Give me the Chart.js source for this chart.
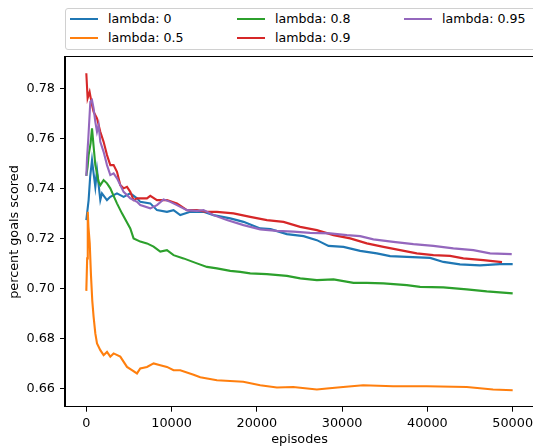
<!DOCTYPE html>
<html>
<head>
<meta charset="utf-8">
<script src="https://cdn.jsdelivr.net/npm/chart.js@4/dist/chart.umd.min.js"></script>
<style>
  html,body{margin:0;padding:0;background:#fff;overflow:hidden;width:533px;height:447px;}
  #wrap{position:absolute;left:0;top:0;width:545px;height:447px;}
  #legend{position:absolute;left:65px;top:8px;width:490px;height:40px;border:1px solid #d0d0d0;border-radius:3px;background:#fff;font-family:"DejaVu Sans",sans-serif;font-size:12.6px;color:#000;}
  .item{position:absolute;height:16px;white-space:nowrap;}
  .swatch{position:absolute;left:0;top:7px;width:28px;height:2px;}
  .lbl{position:absolute;left:38px;top:0px;line-height:16px;}
</style>
</head>
<body>
<div id="wrap"><canvas id="c"></canvas></div>
<div id="legend"></div>
<script>
// ---- data ----
const seriesLabels = ["lambda: 0", "lambda: 0.5", "lambda: 0.8", "lambda: 0.9", "lambda: 0.95"];
const seriesColors = ["#1f77b4", "#ff7f0e", "#2ca02c", "#d62728", "#9467bd"];

const episodesL0 = [0,270,450,668,855,1055,1254,1641,1836,2422,2813,3594,4375,5156,5941,6328,7500,8285,9457,10231,11016,12188,13746,14918,16875,18434,20391,21600,23519,25472,27035,28402,30160,32110,34065,35625,37590,40320,41870,43818,46161,48505,50000];
const valuesL0   = [0.7273,0.7353,0.7446,0.7513,0.746,0.7406,0.7473,0.7353,0.738,0.7353,0.7366,0.738,0.7366,0.738,0.736,0.7346,0.734,0.7313,0.7306,0.7313,0.7293,0.7306,0.7306,0.7293,0.728,0.7266,0.724,0.7237,0.7217,0.7209,0.7193,0.717,0.7166,0.715,0.714,0.7129,0.7126,0.7122,0.7106,0.7096,0.7092,0.7097,0.7097];

const episodesL05 = [0,100,170,250,400,550,700,855,1055,1254,1641,2027,2426,2813,3200,3984,4770,5350,5941,6328,7113,7890,8672,9457,10231,11016,12579,13360,15316,18400,20391,22348,24258,27035,28207,30118,32462,35977,39927,44614,47696,50000];
const valuesL05   = [0.699,0.712,0.7306,0.7245,0.718,0.705,0.695,0.6886,0.682,0.678,0.6753,0.6733,0.6746,0.6727,0.674,0.6727,0.6686,0.6673,0.666,0.668,0.6686,0.670,0.6693,0.6686,0.6673,0.6673,0.6655,0.6645,0.6633,0.6627,0.6613,0.6604,0.6606,0.6596,0.660,0.6606,0.6613,0.6609,0.6609,0.6606,0.6596,0.6593];

const episodesL08 = [0,150,270,500,668,850,1055,1254,1441,1641,2027,2426,2813,3200,3594,4180,5156,5543,6328,7113,7890,8672,9457,10231,11400,12973,14145,15316,16875,18046,19218,21175,23519,25086,27035,28988,31332,32894,34847,37590,39139,41870,44614,46958,50000];
const valuesL08   = [0.745,0.7486,0.7533,0.758,0.764,0.757,0.7493,0.746,0.7426,0.7413,0.7433,0.742,0.740,0.737,0.734,0.730,0.724,0.720,0.7187,0.718,0.7167,0.7147,0.7153,0.7133,0.712,0.710,0.7086,0.708,0.707,0.7066,0.706,0.7057,0.705,0.704,0.7033,0.7036,0.7022,0.7022,0.702,0.7013,0.7006,0.7004,0.6996,0.6988,0.698];

const episodesL09 = [0,152,387,668,855,1254,1641,2027,2426,2813,3200,3598,3984,4371,4770,5156,5543,5941,7113,7500,8285,9457,10629,11801,12973,14145,15316,17262,19219,21176,23122,25079,27035,28984,30938,32895,34841,36798,38754,40700,42657,44216,46561,48750];
const valuesL09   = [0.786,0.776,0.7786,0.7733,0.7706,0.768,0.7626,0.7586,0.7533,0.7493,0.7493,0.7466,0.7413,0.740,0.7406,0.7386,0.7353,0.736,0.736,0.737,0.7353,0.7353,0.734,0.7313,0.7313,0.7306,0.7306,0.730,0.7286,0.7273,0.7266,0.7246,0.7233,0.7213,0.720,0.718,0.7166,0.7153,0.714,0.7133,0.713,0.712,0.7113,0.7105];

const episodesL095 = [0,82,234,469,668,855,1055,1254,1441,1641,2027,2426,2813,3200,3598,3984,4371,5156,5941,6328,7500,8285,9059,9844,10629,11801,12973,13746,14918,16488,18434,20391,22348,24293,26250,28594,30552,32110,33668,36013,38357,40700,43044,45388,47345,49888];
const valuesL095   = [0.745,0.752,0.76,0.7746,0.7753,0.772,0.7666,0.7626,0.7653,0.7586,0.7546,0.7493,0.7453,0.746,0.744,0.7413,0.7386,0.736,0.7346,0.7333,0.732,0.7333,0.7356,0.7346,0.7333,0.7313,0.731,0.7313,0.7293,0.7273,0.7253,0.7236,0.723,0.7227,0.7222,0.722,0.7213,0.7209,0.7196,0.7186,0.7177,0.717,0.716,0.7153,0.714,0.7137];

const xTickValues = [0,10000,20000,30000,40000,50000];
const yTickValues = [0.66,0.68,0.70,0.72,0.74,0.76,0.78];
const xTitle = "episodes";
const yTitle = "percent goals scored";

// ---- build ----
const allEpisodes = [episodesL0, episodesL05, episodesL08, episodesL09, episodesL095];
const allValues = [valuesL0, valuesL05, valuesL08, valuesL09, valuesL095];

const datasets = seriesLabels.map((lab, i) => ({
  label: lab,
  data: allEpisodes[i].map((e, k) => ({x: e, y: allValues[i][k]})),
  borderColor: seriesColors[i],
  backgroundColor: seriesColors[i],
  borderWidth: 2.1,
  pointRadius: 0,
  tension: 0,
  fill: false,
  order: seriesLabels.length - 1 - i
}));

const tickFont = {family: "DejaVu Sans", size: 12.8};

const frame = {
  id: 'frame',
  afterDatasetsDraw(chart) {
    const a = chart.chartArea, ctx = chart.ctx;
    ctx.save();
    ctx.strokeStyle = '#000';
    ctx.lineWidth = 1;
    ctx.strokeRect(Math.round(a.left) - 0.5, Math.round(a.top) - 0.5, Math.round(a.right - a.left) + 1, Math.round(a.bottom - a.top) + 1);
    ctx.restore();
  }
};

const chart = new Chart(document.getElementById('c'), {
  type: 'line',
  data: {datasets},
  options: {
    animation: false,
    responsive: true,
    maintainAspectRatio: false,
    layout: {padding: {top: 57.3, right: 11, left: 0, bottom: 0}},
    plugins: {legend: {display: false}, tooltip: {enabled: false}},
    scales: {
      x: {
        type: 'linear', min: -2500, max: 52500,
        afterBuildTicks: s => { s.ticks = xTickValues.map(v => ({value: v})); },
        afterFit: s => { s.height = 40.3; },
        ticks: {callback: v => String(v), color: '#000', font: tickFont, padding: 4, maxRotation: 0, autoSkip: false},
        grid: {drawOnChartArea: false, tickLength: 5, color: '#000', tickColor: '#000', tickWidth: 1},
        border: {color: '#000', width: 1},
        title: {display: true, text: xTitle, color: '#000', font: tickFont, padding: {top: 0, bottom: 0}}
      },
      y: {
        type: 'linear', min: 0.6527, max: 0.7924,
        afterBuildTicks: s => { s.ticks = yTickValues.map(v => ({value: v})); },
        afterFit: s => { s.width = 65; },
        ticks: {callback: v => Number(v).toFixed(2), color: '#000', font: tickFont, padding: 5, autoSkip: false},
        grid: {drawOnChartArea: false, tickLength: 5, color: '#000', tickColor: '#000', tickWidth: 1},
        border: {color: '#000', width: 1},
        title: {display: true, text: yTitle, color: '#000', font: tickFont, padding: {top: 7, bottom: 0}}
      }
    }
  },
  plugins: [frame]
});

// ---- legend (matplotlib-style, 3 columns filled column-wise) ----
const legend = document.getElementById('legend');
const colX = [4, 171, 338];
const rowY = [2, 21];
chart.data.datasets.forEach((ds, i) => {
  const col = Math.floor(i / 2), row = i % 2;
  const it = document.createElement('div');
  it.className = 'item';
  it.style.left = colX[col] + 'px';
  it.style.top = rowY[row] + 'px';
  const sw = document.createElement('div');
  sw.className = 'swatch';
  sw.style.background = ds.borderColor;
  const tx = document.createElement('div');
  tx.className = 'lbl';
  tx.textContent = ds.label;
  it.appendChild(sw); it.appendChild(tx);
  legend.appendChild(it);
});
</script>
</body>
</html>
